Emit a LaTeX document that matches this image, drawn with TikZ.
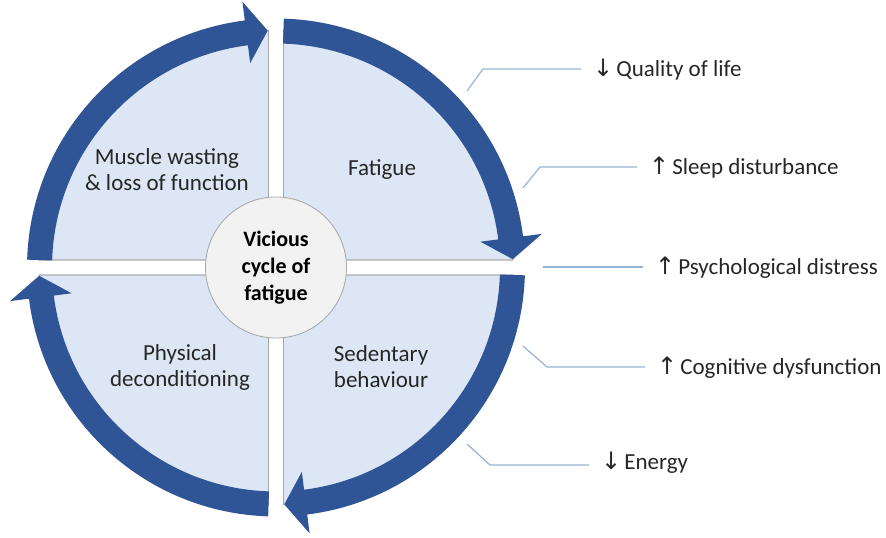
\documentclass[tikz,border=0pt]{standalone}
\usepackage{fontspec}
\setmainfont{Carlito}
\newfontfamily\symf{DejaVu Sans}
\usetikzlibrary{calc}
\definecolor{bandblue}{HTML}{2F5597}
\definecolor{quadfill}{HTML}{DCE6F4}
\definecolor{leadline}{HTML}{95B3D7}
\definecolor{hubfill}{HTML}{F2F2F2}
\definecolor{hubline}{HTML}{A6A6A6}
\tikzset{
  quad/.style={fill=quadfill, draw=hubline, line width=0.8pt},
  band/.style={fill=bandblue},
  qtext/.style={align=center, font=\fontsize{23}{26}\selectfont, text=black!85},
  hub/.style={circle, minimum size=141pt, inner sep=0pt, fill=hubfill, draw=hubline, line width=0.8pt,
    align=center, font=\fontsize{22}{27}\selectfont\bfseries},
  lbl/.style={anchor=base west, inner xsep=12pt, inner ysep=0pt, font=\fontsize{23}{26}\selectfont, text=black!85},
  lead/.style={draw=leadline, line width=1.2pt}
}
\newcommand{\arrseg}[3]{% start, back, tip
  \fill[band] (#1:249) arc[start angle=#1, end angle=#2, radius=249] -- (#2:268) -- (#3:237) -- (#2:206) -- (#2:224)
    arc[start angle=#2, end angle=#1, radius=224] -- cycle;}
\newcommand{\up}{{\symf\fontsize{24}{26}\selectfont ↑}\hspace{3pt}}
\newcommand{\dn}{{\symf\fontsize{24}{26}\selectfont ↓}\hspace{3pt}}
\begin{document}
\begin{tikzpicture}[x=1pt,y=1pt]
\useasboundingbox (0,0) rectangle (886,538);
\begin{scope}[shift={(276,270.5)}]
  \fill[quad] (7.5,7.5) -- (88.19:237) arc[start angle=88.19, end angle=1.81, radius=237] -- cycle;
  \fill[quad] (-7.5,7.5) -- (178.19:237) arc[start angle=178.19, end angle=91.81, radius=237] -- cycle;
  \fill[quad] (-7.5,-7.5) -- (268.19:237) arc[start angle=268.19, end angle=181.81, radius=237] -- cycle;
  \fill[quad] (7.5,-7.5) -- (358.19:237) arc[start angle=358.19, end angle=271.81, radius=237] -- cycle;
  \draw[hubline, line width=0.8pt] (7.5,7.5) -- (88.19:237) (7.5,7.5) -- (1.81:237)
     (-7.5,7.5) -- (178.19:237) (-7.5,7.5) -- (91.81:237)
     (-7.5,-7.5) -- (268.19:237) (-7.5,-7.5) -- (181.81:237)
     (7.5,-7.5) -- (358.19:237) (7.5,-7.5) -- (271.81:237);
  \arrseg{178.2}{97.2}{92}
  \arrseg{88.2}{7.2}{2}
  \arrseg{-1.8}{-82.8}{-88}
  \arrseg{-91.8}{-172.8}{-178}
  \node[hub] (hub) at (0,0) {Vicious\\cycle of\\fatigue};
\end{scope}
\node[qtext] (tl) at (167,368) {Muscle wasting\\\& loss of function};
\node[qtext] (tr) at (382,368) {Fatigue};
\node[qtext] (bl) at (180,171) {Physical\\deconditioning};
\node[qtext] (br) at (381,171) {Sedentary\\behaviour};
\node[lbl] (q) at (581,461) {\dn Quality of life};
\node[lbl] (s) at (637,363) {\up Sleep disturbance};
\node[lbl] (p) at (643,263) {\up Psychological distress};
\node[lbl] (c) at (645,163) {\up Cognitive dysfunction};
\node[lbl] (e) at (589,68) {\dn Energy};
\coordinate (q0) at (467,447); \coordinate (q1) at (483,469);
\coordinate (s0) at (523,350); \coordinate (s1) at (540,371);
\coordinate (p0) at (543,271);
\coordinate (c0) at (523,192); \coordinate (c1) at (547,171);
\coordinate (e0) at (467,94); \coordinate (e1) at (490,73);
\draw[lead] (q0) -- (q1) -- (q1 -| q.west);
\draw[lead] (s0) -- (s1) -- (s1 -| s.west);
\draw[lead] (p0) -- (p0 -| p.west);
\draw[lead] (c0) -- (c1) -- (c1 -| c.west);
\draw[lead] (e0) -- (e1) -- (e1 -| e.west);
\end{tikzpicture}
\end{document}
